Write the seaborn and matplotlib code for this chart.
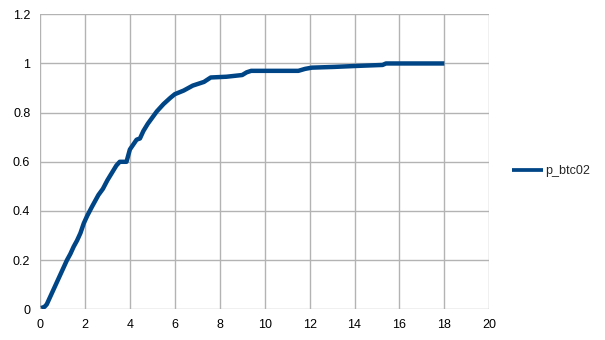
import matplotlib
matplotlib.use("Agg")
import matplotlib.pyplot as plt
import seaborn as sns
import pandas as pd

series_name = "p_btc02"
x_vals = [0.05, 0.2, 0.3, 0.45, 0.6, 0.75, 0.9, 1.05, 1.2, 1.35,
          1.5, 1.65, 1.8, 1.95, 2.1, 2.3, 2.45, 2.6, 2.8, 3.0,
          3.2, 3.4, 3.55, 3.85, 4.0, 4.15, 4.3, 4.45, 4.6, 4.8,
          5.0, 5.2, 5.5, 5.8, 6.0, 6.4, 6.8, 7.3, 7.6, 8.3,
          9.0, 9.2, 9.4, 11.5, 11.8, 12.1, 13.1, 14.1, 15.25, 15.4,
          18.0]
y_vals = [0.005, 0.01, 0.02, 0.05, 0.08, 0.11, 0.14, 0.17, 0.2, 0.225,
          0.255, 0.28, 0.31, 0.35, 0.38, 0.415, 0.44, 0.465, 0.49, 0.525,
          0.555, 0.585, 0.60, 0.60, 0.65, 0.67, 0.69, 0.695, 0.725, 0.755,
          0.78, 0.805, 0.835, 0.86, 0.875, 0.89, 0.91, 0.925, 0.943, 0.946,
          0.953, 0.964, 0.97, 0.97, 0.978, 0.983, 0.986, 0.99, 0.994, 1.0,
          1.0]
x_ticks = [0, 2, 4, 6, 8, 10, 12, 14, 16, 18, 20]
y_ticks = [0, 0.2, 0.4, 0.6, 0.8, 1.0, 1.2]
y_tick_labels = ["0", "0.2", "0.4", "0.6", "0.8", "1", "1.2"]

df = pd.DataFrame({"x": x_vals, "y": y_vals, "series": series_name})

sns.set_style("white")
plt.rcParams["font.family"] = ["Liberation Sans", "DejaVu Sans"]

fig = plt.figure(figsize=(6.05, 3.4), dpi=100)
ax = fig.add_axes([40 / 605, 1 - 309.3 / 340, (489.3 - 40) / 605, (309.3 - 14.3) / 340])

sns.lineplot(data=df, x="x", y="y", hue="series", palette=["#004586"],
             linewidth=3.2, ax=ax, legend=True, solid_capstyle="butt")

ax.set_xlim(0, 20)
ax.set_ylim(0, 1.2)
ax.set_xticks(x_ticks)
ax.set_xticklabels([str(t) for t in x_ticks])
ax.set_yticks(y_ticks)
ax.set_yticklabels(y_tick_labels)
ax.grid(True, color="#b3b3b3", linewidth=1.0)
ax.set_axisbelow(True)
for s in ax.spines.values():
    s.set_visible(False)
ax.tick_params(axis="both", length=5, width=1.0, color="#b3b3b3",
               labelsize=9, labelcolor="#000000", pad=2, direction="out")
ax.set_xlabel("")
ax.set_ylabel("")

handles, labels = ax.get_legend_handles_labels()
for h in handles:
    h.set_linewidth(2.7)
ax.legend(handles, labels, loc="center left", bbox_to_anchor=(511.5 / 605, 1 - 171 / 340),
          bbox_transform=fig.transFigure, frameon=False, fontsize=9,
          handlelength=2.5, handletextpad=0.2, borderaxespad=0, borderpad=0)

fig.savefig("out.png", dpi=100)
